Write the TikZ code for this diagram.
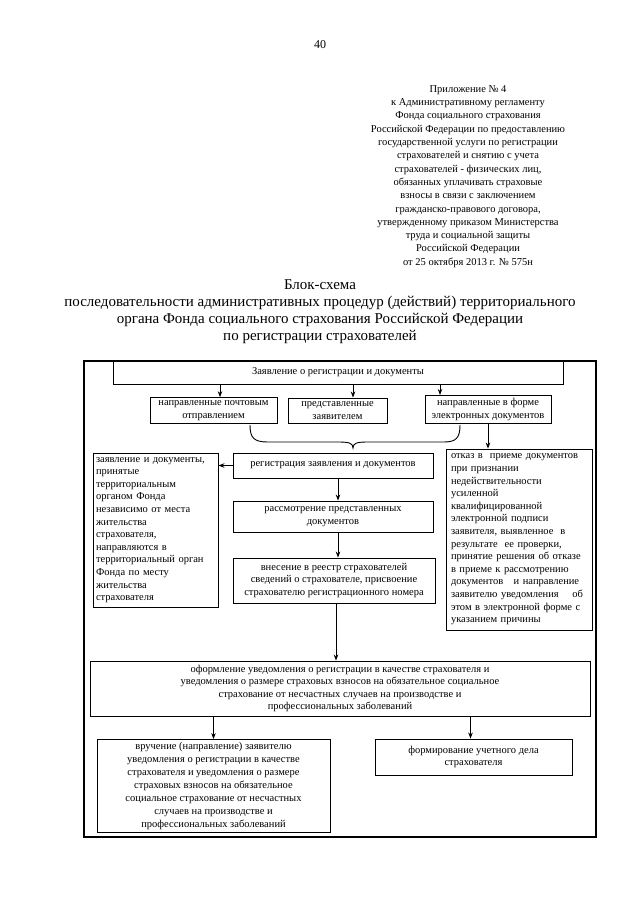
\documentclass[tikz,border=0pt]{standalone}
\usepackage{fontspec}
\setmainfont{Liberation Serif}
\usetikzlibrary{arrows.meta}

\newcommand\blkfont{\fontsize{10.5}{12.6}\selectfont}

\begin{document}
\begin{tikzpicture}[x=1pt,y=-1pt,
    blk/.style={draw, line width=0.9pt, inner sep=3pt, font=\blkfont, align=center},
    arr/.style={line width=0.8pt, -{Stealth[length=6pt,width=4.5pt]}}]
  \useasboundingbox (0,0) rectangle (640,905);

  % heading
  \node (pnum) at (320,45) {\fontsize{12}{14}\selectfont 40};
  \node[align=center, font=\fontsize{10.5}{13.3}\selectfont] (appx) at (468,176.5)
    {Приложение № 4\\
     к Административному регламенту\\
     Фонда социального страхования\\
     Российской Федерации по предоставлению\\
     государственной услуги по регистрации\\
     страхователей и снятию с учета\\
     страхователей - физических лиц,\\
     обязанных уплачивать страховые\\
     взносы в связи с заключением\\
     гражданско-правового договора,\\
     утвержденному приказом Министерства\\
     труда и социальной защиты\\
     Российской Федерации\\
     от 25 октября 2013 г. № 575н};
  \node[align=center, font=\fontsize{15}{17}\selectfont] (title) at (320,312)
    {Блок-схема\\
     последовательности административных процедур (действий) территориального\\
     органа Фонда социального страхования Российской Федерации\\
     по регистрации страхователей};

  % frame
  \draw[line width=1.4pt] (84,361) rectangle (596,837);

  \node[blk, minimum width=450pt, minimum height=23pt] (zayav) at (338,372.5)
    {Заявление о регистрации и документы};
  \node[blk, minimum width=127pt, minimum height=25pt] (pocht) at (213.5,410.5)
    {направленные почтовым\\ отправлением};
  \node[blk, minimum width=99pt, minimum height=25pt] (lichno) at (337.5,410.5)
    {представленные\\ заявителем};
  \node[blk, minimum width=126pt, minimum height=25pt] (elektr) at (488,409.5)
    {направленные в форме\\ электронных документов};

  \node[blk, minimum width=200pt, minimum height=25pt] (reg) at (333,465.5)
    {регистрация заявления и документов};
  \node[blk, minimum width=200pt, minimum height=31pt] (rassm) at (333,516.5)
    {рассмотрение представленных\\ документов};
  \node[blk, minimum width=202pt, minimum height=45pt] (vnes) at (334,580.5)
    {внесение в реестр страхователей\\
     сведений о страхователе, присвоение\\
     страхователю регистрационного номера};

  \node[blk, align=left, text width=119pt, minimum height=154pt] (napr) at (155.5,530)
    {заявление и документы,\\ принятые\\ территориальным\\ органом Фонда\\
     независимо от места\\ жительства\\ страхователя,\\ направляются в\\
     территориальный орган\\ Фонда по месту\\ жительства\\ страхователя};
  \node[blk, align=left, inner sep=5pt, text width=136pt, minimum height=177pt] (otkaz) at (519,539.5)
    {отказ в\ \ приеме документов\\ при признании\\ недействительности\\ усиленной\\
     квалифицированной\\ электронной подписи\\ заявителя, выявленное\ \ в\\
     результате\ \ ее проверки,\\ принятие решения об отказе\\ в приеме к рассмотрению\\
     документов\ \ \ и направление\\ заявителю уведомления\hspace{1.3em}об\\
     этом в электронной форме с\\ указанием причины};

  \node[blk, minimum width=500pt, minimum height=55pt] (oform) at (340,688.5)
    {оформление уведомления о регистрации в качестве страхователя и\\
     уведомления о размере страховых взносов на обязательное социальное\\
     страхование от несчастных случаев на производстве и\\
     профессиональных заболеваний};
  \node[blk, font=\fontsize{10.5}{12.9}\selectfont, minimum width=233pt, minimum height=90pt] (vruch) at (213.5,786)
    {вручение (направление) заявителю\\
     уведомления о регистрации в качестве\\
     страхователя и уведомления о размере\\
     страховых взносов на обязательное\\
     социальное страхование от несчастных\\
     случаев на производстве и\\
     профессиональных заболеваний};
  \node[blk, minimum width=197pt, minimum height=36pt] (delo) at (473.5,757)
    {формирование учетного дела\\ страхователя};

  % arrows
  \draw[arr] ([xshift=6.5pt]pocht.north |- zayav.south) -- ([xshift=6.5pt]pocht.north);
  \draw[arr] ([xshift=15.5pt]lichno.north |- zayav.south) -- ([xshift=15.5pt]lichno.north);
  \draw[arr] ([xshift=-48pt]elektr.north |- zayav.south) -- ([xshift=-48pt]elektr.north);
  \draw[arr] (elektr.south) -- (elektr.south |- otkaz.north);
  \draw[line width=0.9pt] (250,425) .. controls (250,438) and (254,442) .. (268,442)
    -- (338,442) .. controls (349,442) and (353,443) .. (353,448)
    .. controls (353,443) and (357,442) .. (368,442)
    -- (444,442) .. controls (456,442) and (460,438) .. (460,425);
  \draw[arr] (reg.west) -- (reg.west -| napr.east);
  \draw[arr] ([xshift=5pt]reg.south) -- ([xshift=5pt]rassm.north);
  \draw[arr] ([xshift=5pt]rassm.south) -- ([xshift=4pt]vnes.north);
  \draw[arr] ([xshift=2pt]vnes.south) -- ([xshift=2pt]vnes.south |- oform.north);
  \draw[arr] (vruch.north |- oform.south) -- (vruch.north);
  \draw[arr] ([xshift=-3pt]delo.north |- oform.south) -- ([xshift=-3pt]delo.north);
\end{tikzpicture}
\end{document}
